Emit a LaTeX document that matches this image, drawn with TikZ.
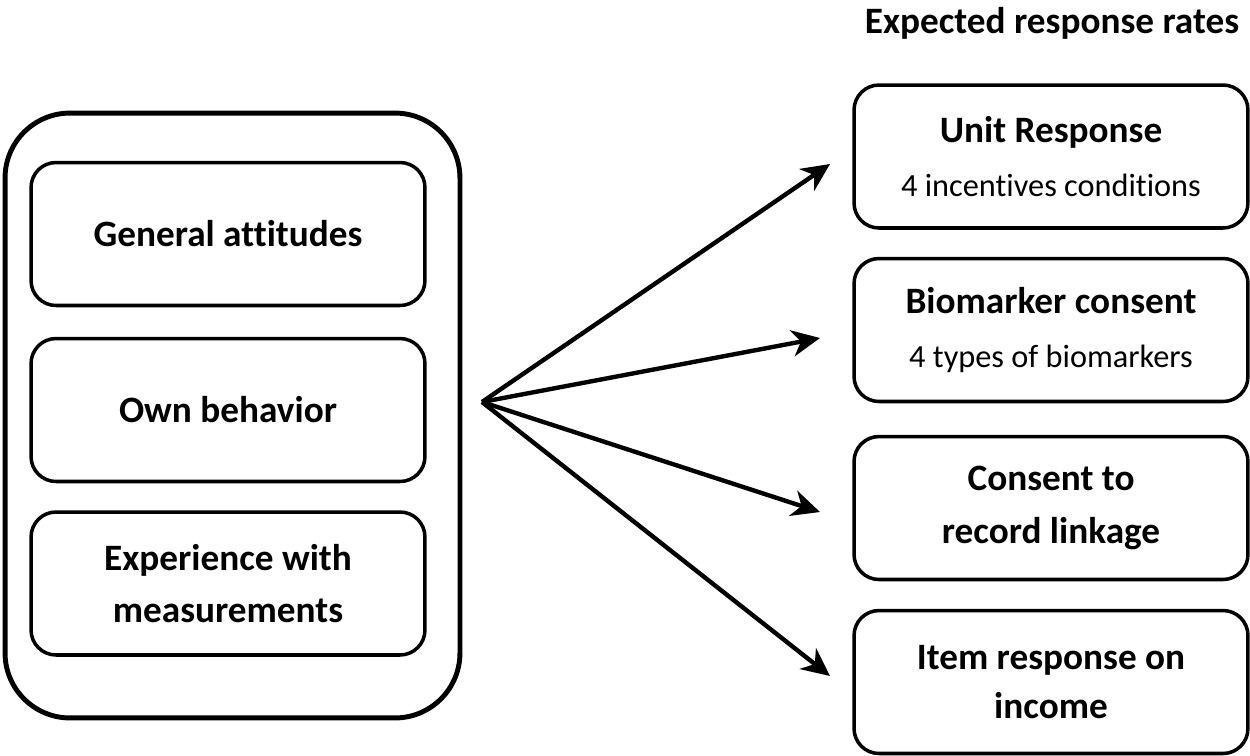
\documentclass[tikz,border=0pt]{standalone}
\usepackage{fontspec}
\setmainfont{Carlito}[Ligatures=NoCommon]
\usetikzlibrary{positioning,arrows.meta}

\begin{document}
\begin{tikzpicture}[x=0.02cm, y=-0.02cm,
    box/.style={draw, line width=2pt, rounded corners=0.5cm, minimum width=7.88cm,
        minimum height=2.86cm, align=center, font=\fontsize{21.2}{30}\selectfont\bfseries},
    fan/.style={line width=2.5pt, -{Stealth[length=16pt, width=15pt, inset=5pt]}}]
    \useasboundingbox (0,0) rectangle (1250,755);

    % left frame with the three factors
    \node[draw, line width=2.8pt, rounded corners=1.3cm, minimum width=9.1cm, minimum height=12.1cm] (frame) at (232.5,415.5) {};
    \node[box] (attitudes) at (228,234) {General attitudes};
    \node[box] (behavior) at (228,410) {Own behavior};
    \node[box] (experience) at (228,583.5) {Experience with\\measurements};

    % right column
    \node[font=\fontsize{21.2}{25}\selectfont\bfseries, anchor=base] (title) at (1052,33) {Expected response rates};
    \node[box, font=\fontsize{21.2}{31}\selectfont\bfseries] (unit) at (1051,156.5) {Unit Response\\{\mdseries\fontsize{18.4}{31}\selectfont 4 incentives conditions}};
    \node[box, font=\fontsize{21.2}{31}\selectfont\bfseries] (biomarker) at (1051,330) {Biomarker consent\\{\mdseries\fontsize{18.4}{31}\selectfont 4 types of biomarkers}};
    \node[box] (linkage) at (1051,508) {Consent to\\record linkage};
    \node[box, font=\fontsize{21.2}{28}\selectfont\bfseries] (income) at (1051,682) {Item response on\\income};

    % arrows
    \coordinate (src) at (482,402);
    \coordinate (tip1) at (830,164);
    \coordinate (tip2) at (820,338);
    \coordinate (tip3) at (820,512);
    \coordinate (tip4) at (830,676);
    \foreach \t in {1,2,3,4} {
        \draw[fan] (src) -- (tip\t);
    }
\end{tikzpicture}
\end{document}
